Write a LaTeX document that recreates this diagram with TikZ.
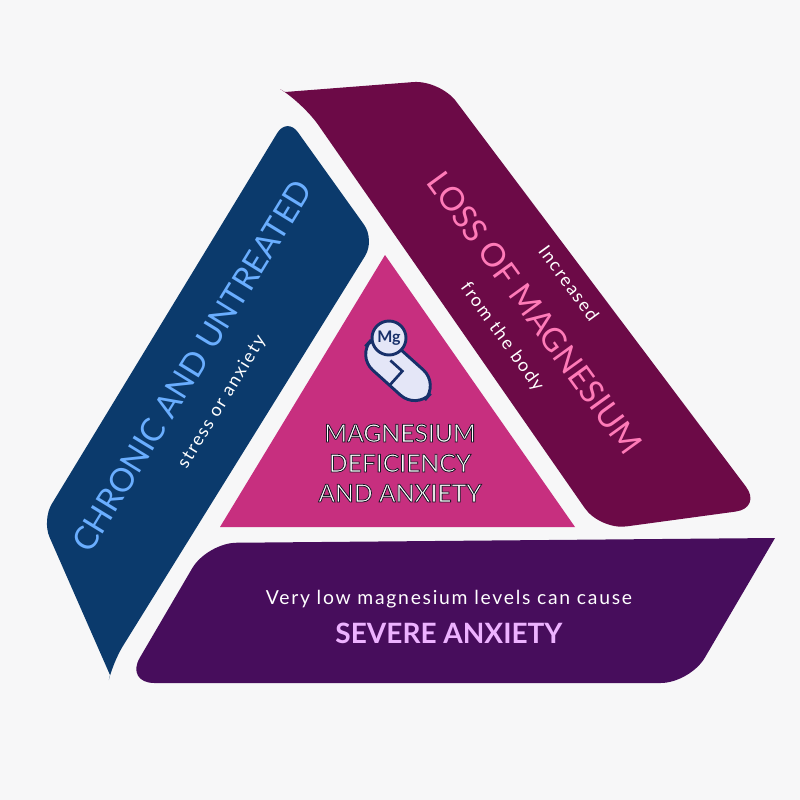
\documentclass[tikz,border=0pt]{standalone}
\usepackage{fontspec}
\setmainfont{Lato}
\newfontfamily\spaced[LetterSpace=9]{Lato}
\usepackage{tikz}
\definecolor{bandblue}{HTML}{0B3A6C}
\definecolor{bandwine}{HTML}{6C0A47}
\definecolor{bandplum}{HTML}{470D5C}
\definecolor{core}{HTML}{C72F7F}
\definecolor{paper}{HTML}{F7F7F8}
\definecolor{skytxt}{HTML}{6AAEFF}
\definecolor{rosetxt}{HTML}{FF7BB8}
\definecolor{liltxt}{HTML}{EDB2FF}
\definecolor{pillfill}{HTML}{E4E6F7}
\definecolor{navy}{HTML}{17306A}
\newcommand\outlined[1]{\special{pdf:literal direct 0.6 w 0.1 0.1 0.15 RG 2 Tr}#1\special{pdf:literal direct 0 Tr}}

\begin{document}
\begin{tikzpicture}
    [ x=.75pt, y=-.75pt,
      band/.style={rounded corners=14pt},
      title/.style={font=\fontsize{24.5}{26}\selectfont},
      sub/.style={font=\spaced\fontsize{13.5}{15}\selectfont, text=white},
    ]
    \useasboundingbox[fill=paper] (0,0) rectangle (800,800);

    % three bands round the core
    \fill[bandblue, band] (287,117) -- (375,240) -- (113,662)
        [sharp corners] -- (110,675) [rounded corners=14pt] -- (42,520) -- cycle;
    \fill[bandwine, band] (285,92) [rounded corners=20pt] -- (440,80) -- (762,508)
        -- (600,530) -- (303,103) [sharp corners] -- cycle;
    \fill[bandplum, band] (207,543) [sharp corners] -- (775,538)
        [rounded corners=22pt] -- (690,683) -- (125,683) -- cycle;
    \fill[core] (385,255) -- (575,527) -- (220,527) -- cycle;

    % pill icon
    \begin{scope}[shift={(398,370)}, rotate=-42]
        \draw[navy, line width=2.2pt, fill=pillfill, rounded corners=16pt]
            (-40,-17) rectangle (40,17);
        \draw[navy, line width=2pt] (4,17) -- (4,-2) -- (-12,-2);
    \end{scope}
    \draw[navy, line width=2.2pt, fill=pillfill] (389,338) circle (17);
    \node[navy, font=\bfseries\fontsize{12}{12}\selectfont] (mg) at (389,338) {Mg};

    % band texts
    \node[title, text=skytxt, rotate=58.5] (chronic) at (192,366) {CHRONIC AND UNTREATED};
    \node[sub, rotate=58.5] (stress) at (222,402) {stress or anxiety};

    \node[title, text=rosetxt, rotate=-54] (loss) at (535,313) {LOSS OF MAGNESIUM};
    \node[sub, rotate=-54] (incr) at (569,283) {Increased};
    \node[sub, rotate=-54] (body) at (502,337) {from the body};

    \node[sub, font=\spaced\fontsize{14.5}{16}\selectfont] (low) at (449,599)
        {Very low magnesium levels can cause};
    \node[text=liltxt, font=\bfseries\fontsize{21}{22}\selectfont] (severe) at (449,633)
        {SEVERE ANXIETY};

    % core text
    \node[text=white, align=center, font=\fontsize{18.5}{22.5}\selectfont]
        (deficiency) at (400,463) {\outlined{MAGNESIUM}\\\outlined{DEFICIENCY}\\\outlined{AND ANXIETY}};
\end{tikzpicture}
\end{document}
